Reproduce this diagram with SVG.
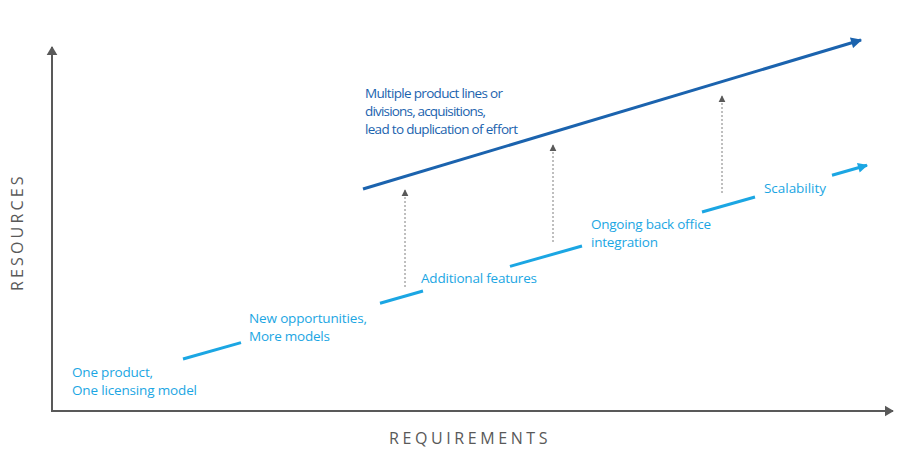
<svg xmlns="http://www.w3.org/2000/svg" width="915" height="454" viewBox="0 0 915 454">
<style>
.axis{stroke:#595959;stroke-width:2;fill:none}
.dark{stroke:#1b63ae;stroke-width:3;fill:none}
.light{stroke:#1ba6e3;stroke-width:3;fill:none}
.dot{stroke:#7f7f7f;stroke-width:1;stroke-dasharray:2 2;fill:none}
.tl{font-family:"Open Sans","Liberation Sans",sans-serif;font-size:13.5px;fill:#1ba6e3}
.td{font-family:"Open Sans","Liberation Sans",sans-serif;font-size:13.5px;fill:#1b63ae}
.ax{font-family:"Open Sans","Liberation Sans",sans-serif;font-size:16px;fill:#595959;letter-spacing:3.5px}
</style>
<defs>
<marker id="mAxis" viewBox="0 0 10 12" refX="9" refY="6" markerWidth="9" markerHeight="12" markerUnits="userSpaceOnUse" orient="auto"><path d="M0,0 L10,6 L0,12 z" fill="#595959"/></marker>
<marker id="mDark" viewBox="0 0 10 10" refX="9" refY="5" markerWidth="13" markerHeight="11" markerUnits="userSpaceOnUse" orient="auto"><path d="M0,0 L10,5 L0,10 z" fill="#1b63ae"/></marker>
<marker id="mLight" viewBox="0 0 10 10" refX="9" refY="5" markerWidth="12" markerHeight="10" markerUnits="userSpaceOnUse" orient="auto"><path d="M0,0 L10,5 L0,10 z" fill="#1ba6e3"/></marker>
<marker id="mDot" viewBox="0 0 10 10" refX="9" refY="5" markerWidth="7" markerHeight="10" markerUnits="userSpaceOnUse" orient="auto"><path d="M0,0 L10,5 L0,10 z" fill="#595959"/></marker>
</defs>
<rect width="915" height="454" fill="#ffffff"/>
<g id="axes">
<line class="axis" x1="52" y1="411" x2="52" y2="47" marker-end="url(#mAxis)"/>
<line class="axis" x1="51" y1="411" x2="893" y2="411" marker-end="url(#mAxis)"/>
<text class="ax" transform="translate(23,232) rotate(-90)" text-anchor="middle" textLength="118">RESOURCES</text>
<text class="ax" x="389" y="444" textLength="162">REQUIREMENTS</text>
</g>
<g id="connectors">
<line class="dark" x1="363" y1="189" x2="861" y2="40" marker-end="url(#mDark)"/>
<line class="light" x1="183" y1="359" x2="241" y2="342.6"/>
<line class="light" x1="380" y1="303.2" x2="423" y2="291"/>
<line class="light" x1="510" y1="266.4" x2="582" y2="246"/>
<line class="light" x1="702" y1="212" x2="755" y2="197"/>
<line class="light" x1="832" y1="175.2" x2="867" y2="165.3" marker-end="url(#mLight)"/>
<line class="dot" x1="405" y1="287" x2="405" y2="190" marker-end="url(#mDot)"/>
<line class="dot" x1="553" y1="242" x2="553" y2="145" marker-end="url(#mDot)"/>
<line class="dot" x1="722" y1="193" x2="722" y2="96" marker-end="url(#mDot)"/>
</g>
<g id="node-multiple">
<text class="td" x="365" y="98" textLength="138">Multiple product lines or</text>
<text class="td" x="365" y="116" textLength="121">divisions, acquisitions,</text>
<text class="td" x="365" y="134" textLength="153">lead to duplication of effort</text>
</g>
<g id="node-one">
<text class="tl" x="72" y="377" textLength="81">One product,</text>
<text class="tl" x="72" y="395" textLength="125">One licensing model</text>
</g>
<g id="node-new">
<text class="tl" x="249" y="323" textLength="118">New opportunities,</text>
<text class="tl" x="249" y="341" textLength="81">More models</text>
</g>
<g id="node-additional">
<text class="tl" x="421" y="283" textLength="116">Additional features</text>
</g>
<g id="node-ongoing">
<text class="tl" x="591" y="229" textLength="120">Ongoing back office</text>
<text class="tl" x="591" y="247" textLength="67">integration</text>
</g>
<g id="node-scalability">
<text class="tl" x="764" y="193" textLength="62">Scalability</text>
</g>
</svg>
